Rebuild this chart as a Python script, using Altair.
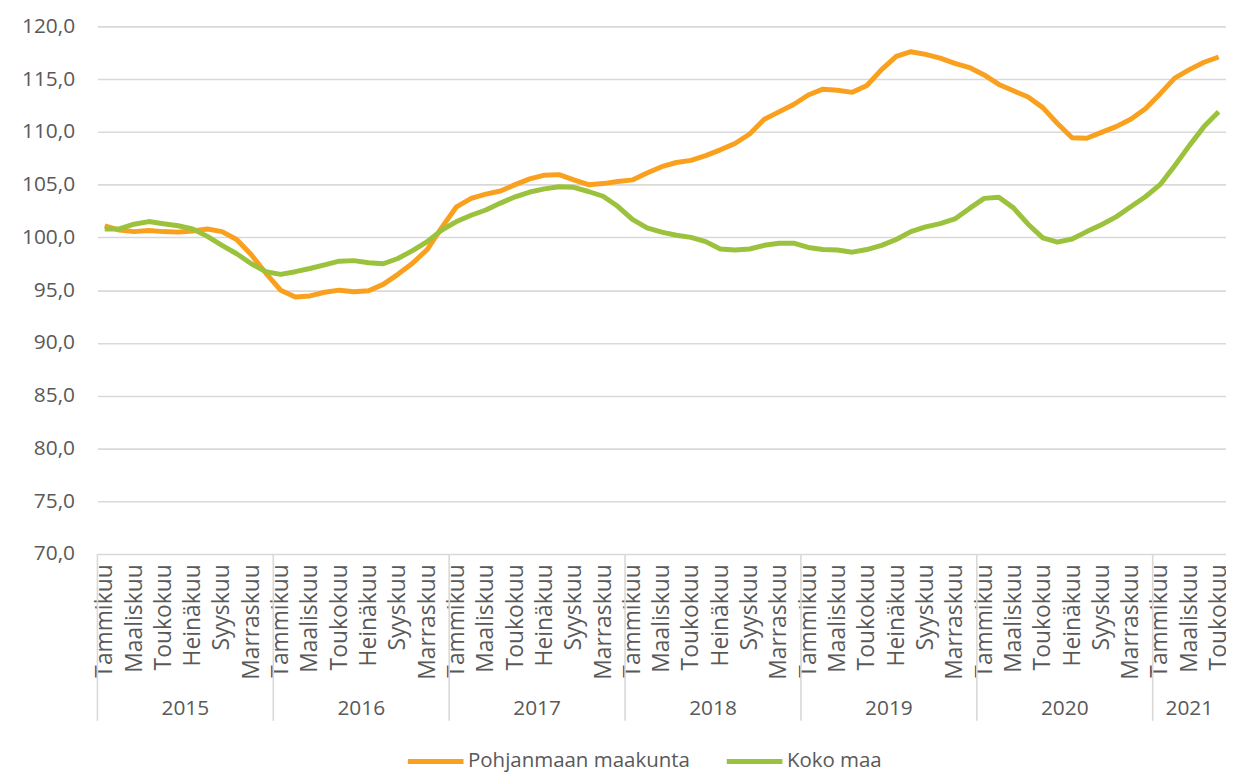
import altair as alt
import pandas as pd

# ---------------- data ----------------
month_names = ["Tammikuu", "Helmikuu", "Maaliskuu", "Huhtikuu", "Toukokuu", "Kesäkuu",
               "Heinäkuu", "Elokuu", "Syyskuu", "Lokakuu", "Marraskuu", "Joulukuu"]
years = [2015, 2016, 2017, 2018, 2019, 2020, 2021]
months_in_year = [12, 12, 12, 12, 12, 12, 5]
series_names = ["Pohjanmaan maakunta", "Koko maa"]

pohjanmaa = [
    101.1, 100.7, 100.55, 100.65, 100.55, 100.5, 100.6, 100.8, 100.55, 99.8, 98.35, 96.6,
    95.0, 94.35, 94.45, 94.8, 95.0, 94.85, 94.95, 95.55, 96.5, 97.55, 98.85, 100.95,
    102.9, 103.7, 104.1, 104.4, 105.0, 105.55, 105.9, 105.95, 105.45, 105.0, 105.1, 105.3,
    105.45, 106.1, 106.7, 107.1, 107.3, 107.75, 108.3, 108.9, 109.8, 111.2, 111.9, 112.6,
    113.5, 114.05, 113.95, 113.75, 114.4, 115.9, 117.15, 117.6, 117.35, 117.0, 116.5, 116.1,
    115.4, 114.5, 113.9, 113.3, 112.3, 110.8, 109.45, 109.4, 109.95, 110.5, 111.2, 112.2,
    113.6, 115.1, 115.9, 116.6, 117.1,
]
koko_maa = [
    100.8, 100.8, 101.25, 101.5, 101.3, 101.1, 100.8, 100.1, 99.25, 98.45, 97.5, 96.75,
    96.5, 96.75, 97.05, 97.4, 97.75, 97.8, 97.6, 97.5, 98.0, 98.75, 99.6, 100.7,
    101.5, 102.1, 102.6, 103.25, 103.85, 104.3, 104.6, 104.8, 104.75, 104.35, 103.9, 102.95,
    101.7, 100.9, 100.5, 100.2, 100.0, 99.6, 98.9, 98.8, 98.9, 99.25, 99.45, 99.45,
    99.05, 98.85, 98.8, 98.6, 98.85, 99.25, 99.8, 100.55, 101.0, 101.3, 101.75, 102.75,
    103.7, 103.8, 102.8, 101.25, 99.95, 99.55, 99.85, 100.55, 101.2, 101.95, 102.9, 103.85,
    105.0, 106.8, 108.7, 110.5, 111.9,
]
y_ticks = [70, 75, 80, 85, 90, 95, 100, 105, 110, 115, 120]

colors = ["#F9A11F", "#9BC23C"]
FONT = "Open Sans"
TXT = "#595959"
GRID = "#D9D9D9"

# ---------------- tables ----------------
n = len(pohjanmaa)
rows = []
for name, vals in zip(series_names, [pohjanmaa, koko_maa]):
    for i, v in enumerate(vals):
        rows.append({"pos": i + 0.5, "value": v, "series": name})
df = pd.DataFrame(rows)

starts, mids = [], []
acc = 0
for cnt in months_in_year:
    starts.append(acc)
    mids.append(acc + cnt / 2)
    acc += cnt
year_df = pd.DataFrame({"year": [str(y) for y in years], "mid": mids})
sep_df = pd.DataFrame({"b": starts})

month_ticks = [i + 0.5 for i in range(0, n, 2)]
label_expr = " : ".join(
    f"floor(datum.value) % 12 == {k} ? '{m}'" for k, m in enumerate(month_names)
) + " : ''"

W, H = 1136, 531
xscale = alt.Scale(domain=[0, n], nice=False, zero=False)
x_axis = alt.Axis(values=month_ticks, labelExpr=label_expr,
                  labelAngle=270, labelFont=FONT, labelFontSize=23, labelColor=TXT,
                  ticks=False, domain=False, grid=False, labelPadding=10,
                  labelOverlap=False, title=None, labelBound=False, labelFlush=False)

lines = alt.Chart(df).mark_line(strokeWidth=5, strokeJoin="round").encode(
    x=alt.X("pos:Q", scale=xscale, axis=x_axis),
    y=alt.Y("value:Q", scale=alt.Scale(domain=[70, 120], nice=False, zero=False),
            axis=alt.Axis(values=y_ticks, labelExpr="replace(format(datum.value, '.1f'), '.', ',')",
                          labelFont=FONT, labelFontSize=21, labelColor=TXT,
                          ticks=False, domain=False, grid=True, gridColor=GRID, gridWidth=1.6,
                          labelPadding=23, title=None)),
    color=alt.Color("series:N", scale=alt.Scale(domain=series_names, range=colors),
                    sort=series_names,
                    legend=alt.Legend(title=None, orient="none", direction="horizontal",
                                      legendX=310, legendY=709, symbolType="stroke",
                                      symbolSize=3136, symbolStrokeWidth=5,
                                      labelFont=FONT, labelFontSize=20.6, labelColor=TXT,
                                      labelLimit=400, labelOffset=2, columnPadding=26)),
)

seps = alt.Chart(sep_df).mark_rule(color=GRID, strokeWidth=1.6).encode(
    x=alt.X("b:Q", scale=xscale, axis=x_axis),
    y=alt.value(H),
    y2=alt.value(H + 168),
)

year_text = alt.Chart(year_df).mark_text(font=FONT, fontSize=21, color=TXT, baseline="middle",
                                         align="center").encode(
    x=alt.X("mid:Q", scale=xscale, axis=x_axis),
    y=alt.value(H + 156),
    text="year:N",
)

chart = alt.layer(lines, seps, year_text).properties(
    width=W, height=H,
    autosize=alt.AutoSizeParams(type="none"),
    padding={"left": 90, "top": 16, "right": 0, "bottom": 218},
).configure_view(stroke=None)

chart.save("out.html", embed_options={"renderer": "svg", "actions": False})
